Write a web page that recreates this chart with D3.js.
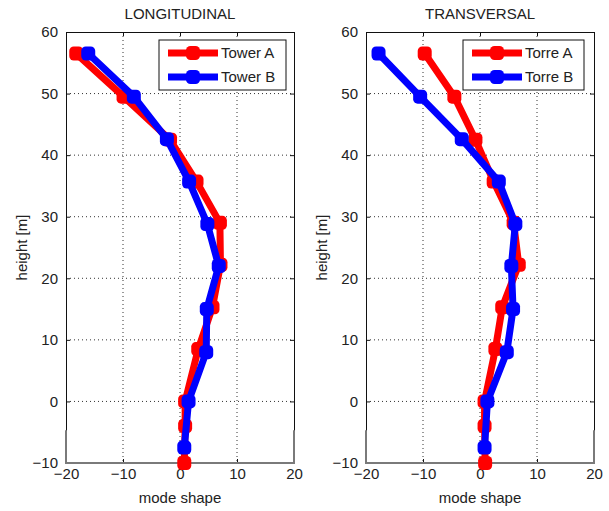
<!DOCTYPE html>
<html><head><meta charset="utf-8">
<script src="https://cdn.jsdelivr.net/npm/d3@7"></script>
<style>body{margin:0;background:#fff}svg{display:block}text{font-family:"Liberation Sans",Arial,sans-serif;fill:#222}</style>
</head><body><svg id="c" width="609" height="511"></svg>
<script>
const heightsA = [56.5, 49.5, 42.5, 35.7, 29, 22.2, 15.3, 8.5, 0, -4, -10];
const heightsB = [56.5, 49.5, 42.6, 35.7, 28.8, 22, 15, 8, 0, -7.5];
const longA = [-18.2, -9.9, -1.75, 2.9, 7.0, 7.1, 5.7, 3.2, 0.9, 0.9, 0.75];
const longB = [-16.1, -8.1, -2.3, 1.6, 4.8, 6.8, 4.7, 4.6, 1.5, 0.75];
const transA = [-9.7, -4.5, -0.8, 2.4, 5.9, 6.8, 3.9, 2.7, 0.8, 0.8, 0.9];
const transB = [-17.8, -10.5, -3.2, 3.3, 6.2, 5.5, 5.8, 4.7, 1.3, 0.8];
const xTicks = [-20, -10, 0, 10, 20];
const yTicks = [-10, 0, 10, 20, 30, 40, 50, 60];
const panels = [
  {title: "LONGITUDINAL", names: ["Tower A", "Tower B"], a: longA, b: longB, x0: 66, legX: 159, legW: 127},
  {title: "TRANSVERSAL", names: ["Torre A", "Torre B"], a: transA, b: transB, x0: 366, legX: 463, legW: 121}
];
const colors = ["#ff0000", "#0000ff"];
const svg = d3.select("#c");
const y = d3.scaleLinear().domain([-10, 60]).range([463, 32]);
function marker(sel, cx, cy, col) {
  sel.append("rect").attr("x", cx - 7).attr("y", cy - 7).attr("width", 14).attr("height", 14)
    .attr("rx", 4.5).attr("fill", col);
}
panels.forEach(p => {
  const x = d3.scaleLinear().domain([-20, 20]).range([p.x0, p.x0 + 228]);
  const g = svg.append("g");
  // grid
  g.selectAll(".gx").data(xTicks.slice(1, -1)).join("line")
    .attr("x1", d => x(d)).attr("x2", d => x(d)).attr("y1", y(60)).attr("y2", y(-10))
    .attr("stroke", "#333").attr("stroke-width", 1).attr("stroke-dasharray", "1,3");
  g.selectAll(".gy").data(yTicks.slice(1, -1)).join("line")
    .attr("y1", d => y(d)).attr("y2", d => y(d)).attr("x1", x(-20)).attr("x2", x(20))
    .attr("stroke", "#333").attr("stroke-width", 1).attr("stroke-dasharray", "1,3");
  // axes
  const ax = g.append("g").attr("transform", `translate(0,${y(-10)})`)
    .call(d3.axisBottom(x).tickValues(xTicks).tickSize(-4).tickPadding(8).tickFormat(d3.format("d")));
  const axT = g.append("g").attr("transform", `translate(0,${y(60)})`)
    .call(d3.axisTop(x).tickValues(xTicks).tickSize(-4).tickFormat(""));
  const ay = g.append("g").attr("transform", `translate(${x(-20)},0)`)
    .call(d3.axisLeft(y).tickValues(yTicks).tickSize(-4).tickPadding(8).tickFormat(d3.format("d")));
  const ayR = g.append("g").attr("transform", `translate(${x(20)},0)`)
    .call(d3.axisRight(y).tickValues(yTicks).tickSize(-4).tickFormat(""));
  [ax, axT, ay, ayR].forEach(a => {
    a.selectAll("path").attr("stroke", "#111").attr("stroke-width", 1);
    a.selectAll("line").attr("stroke", "#111");
    a.selectAll("text").style("font-size", "15px").attr("fill", "#222");
  });
  ax.selectAll("text").attr("dy", "0.55em");
  // gray lower band of frame
  const gb = g.append("g").attr("stroke", "#7a7a7a").attr("stroke-width", 2).attr("fill", "none");
  gb.append("path").attr("d", `M${x(-20)},${y(-4.7)}V${y(-10)}H${x(20)}V${y(-4.7)}`);
  // series
  const line = d3.line();
  [[p.a, heightsA], [p.b, heightsB]].forEach((s, i) => {
    const pts = s[0].map((v, k) => [x(v), y(s[1][k])]);
    g.append("path").attr("d", line(pts)).attr("fill", "none").attr("stroke", colors[i])
      .attr("stroke-width", 7).attr("stroke-linejoin", "round");
    const mg = g.append("g");
    pts.forEach(d => marker(mg, d[0], d[1], colors[i]));
  });
  // title & labels
  g.append("text").attr("x", x(0)).attr("y", 19).attr("text-anchor", "middle").style("font-size", "15px").text(p.title);
  g.append("text").attr("x", x(0)).attr("y", 503).attr("text-anchor", "middle").style("font-size", "15px").text("mode shape");
  g.append("text").attr("transform", `translate(${p.x0 - 39},${y(25)}) rotate(-90)`)
    .attr("text-anchor", "middle").style("font-size", "15px").text("height [m]");
  // legend
  const lg = g.append("g");
  lg.append("rect").attr("x", p.legX).attr("y", 40).attr("width", p.legW).attr("height", 50)
    .attr("fill", "#fff").attr("stroke", "#111").attr("stroke-width", 1);
  p.names.forEach((n, i) => {
    const yy = 53 + i * 24;
    lg.append("line").attr("x1", p.legX + 9).attr("x2", p.legX + 59).attr("y1", yy).attr("y2", yy)
      .attr("stroke", colors[i]).attr("stroke-width", 7);
    marker(lg, p.legX + 34, yy, colors[i]);
    lg.append("text").attr("x", p.legX + 62).attr("y", yy).attr("dy", "0.36em").style("font-size", "15px").text(n);
  });
});
</script></body></html>
